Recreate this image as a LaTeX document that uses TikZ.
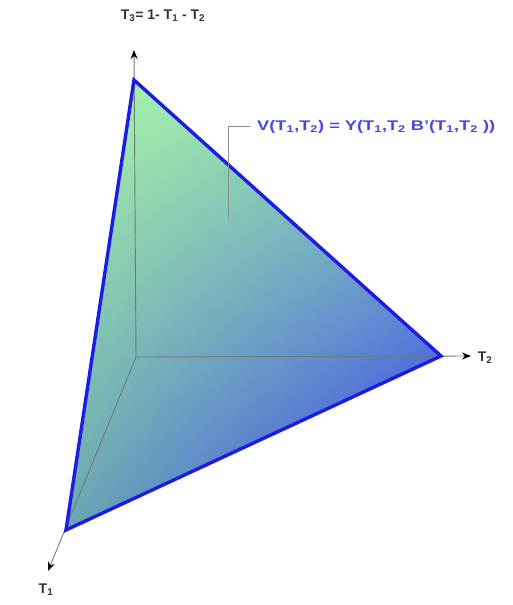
\documentclass[tikz,border=0pt]{standalone}
\usepackage{fontspec}
\setmainfont{Liberation Sans}
\usetikzlibrary{arrows.meta,shadings}
\definecolor{lgreen}{RGB}{172,248,168}
\definecolor{urcol}{RGB}{135,215,178}
\definecolor{llcol}{RGB}{105,168,178}
\definecolor{dblue}{RGB}{45,45,250}
\definecolor{edgeblue}{RGB}{28,28,228}
\definecolor{labblue}{RGB}{70,70,235}
\definecolor{axgray}{RGB}{110,125,115}
\tikzset{
  axis/.style={draw=axgray, line width=0.9pt, -{Stealth[length=9pt,width=7pt,black]}},
  lab/.style={font=\fontsize{14}{16}\selectfont\bfseries, text=black!80, inner sep=0pt},
  eqlab/.style={font=\fontsize{14}{16}\selectfont\bfseries, text=labblue, inner sep=0pt, anchor=west},
  leader/.style={draw=black!45, line width=0.8pt},
}
\begin{document}
\begin{tikzpicture}[x=1pt,y=-1pt]
\useasboundingbox (0,0) rectangle (512,605);
\coordinate (O) at (136,357);
\coordinate (A) at (134,80);
\coordinate (B) at (441,356);
\coordinate (C) at (66,530);
\coordinate (Ae) at (134,50);
\coordinate (Be) at (471,356);
\coordinate (Ce) at (48,571);
\begin{scope}
\clip (A) -- (B) -- (C) -- cycle;
\shade[upper left=lgreen, lower right=dblue, upper right=urcol, lower left=llcol] (60,75) rectangle (445,535);
\end{scope}
\draw[axis] (O) -- (Ae);
\draw[axis] (O) -- (Be);
\draw[axis] (O) -- (Ce);
\draw[edgeblue, line width=3.4pt, line join=miter] (A) -- (B) -- (C) -- cycle;
\node[lab] (t3) at (163,16) {T\textsubscript{3}= 1- T\textsubscript{1} - T\textsubscript{2}};
\node[lab] (t2) at (485,358) {T\textsubscript{2}};
\node[lab] (t1) at (46,590) {T\textsubscript{1}};
\coordinate (L0) at (228,218);
\coordinate (L1) at (228,126);
\coordinate (L2) at (250,126);
\draw[leader] (L0) -- (L1) -- (L2);
\node[eqlab] (eq) at (257,127) {\scalebox{1.3}[1]{V(T\textsubscript{1},T\textsubscript{2}) = Y(T\textsubscript{1},T\textsubscript{2} B'(T\textsubscript{1},T\textsubscript{2} ))}};
\end{tikzpicture}
\end{document}
